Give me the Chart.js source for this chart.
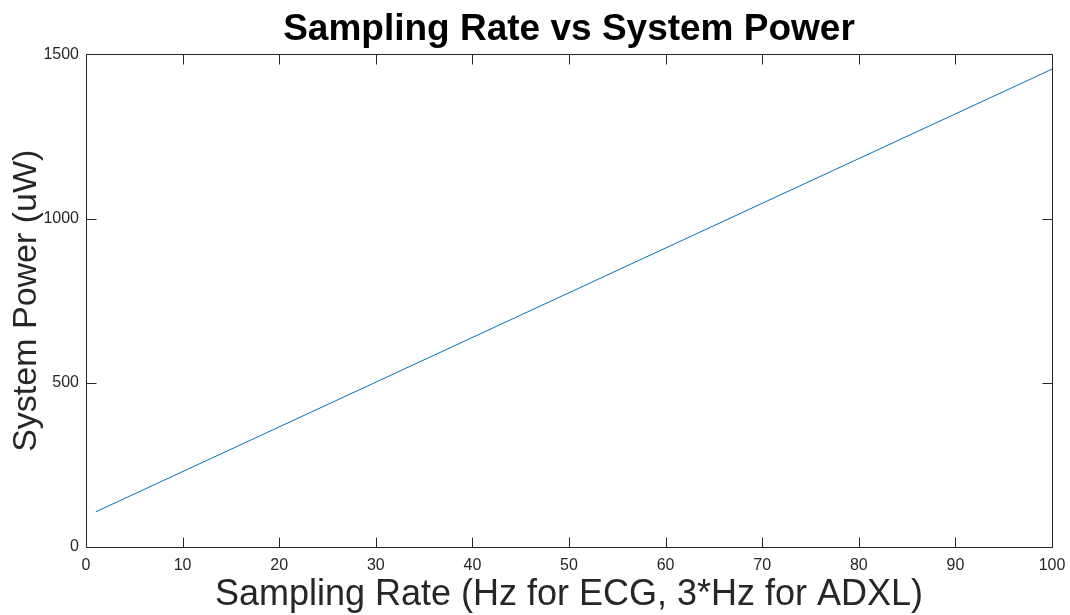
<!DOCTYPE html>
<html>
<head>
<meta charset="utf-8">
<script src="https://cdn.jsdelivr.net/npm/chart.js@4.4.1/dist/chart.umd.min.js"></script>
<style>
  html, body { margin: 0; padding: 0; background: #ffffff; }
  #wrap { width: 1070px; height: 615px; }
</style>
</head>
<body>
<div id="wrap"><canvas id="c" width="1070" height="615"></canvas></div>
<script>
// Sampling rate (Hz) and resulting system power (uW)
const samplingRate = [1, 100];
const systemPower = [107, 1455];

// Axis tick positions
const xTickValues = [0, 10, 20, 30, 40, 50, 60, 70, 80, 90, 100];
const yTickValues = [0, 500, 1000, 1500];

const titleText = 'Sampling Rate vs System Power';
const xLabel = 'Sampling Rate (Hz for ECG, 3*Hz for ADXL)';
const yLabel = 'System Power (uW)';

const axisColor = '#262626';
const lineColor = '#0072BD';
const fontFamily = '"Liberation Sans", Arial, Helvetica, sans-serif';

const points = samplingRate.map((x, i) => ({ x: x, y: systemPower[i] }));

// Box around the plot area with inward ticks on all four sides
const boxTicks = {
  id: 'boxTicks',
  afterDraw(chart) {
    const { ctx, chartArea: a } = chart;
    const xs = chart.scales.x, ys = chart.scales.y;
    const len = 10;
    ctx.save();
    ctx.strokeStyle = axisColor;
    ctx.lineWidth = 1;
    ctx.beginPath();
    const L = Math.round(a.left) + 0.5, R = Math.round(a.right) + 0.5;
    const T = Math.round(a.top) + 0.5, B = Math.round(a.bottom) + 0.5;
    ctx.rect(L, T, R - L, B - T);
    xs.ticks.forEach(t => {
      const px = Math.round(xs.getPixelForValue(t.value)) + 0.5;
      ctx.moveTo(px, B); ctx.lineTo(px, B - len);
      ctx.moveTo(px, T); ctx.lineTo(px, T + len);
    });
    ys.ticks.forEach(t => {
      const py = Math.round(ys.getPixelForValue(t.value)) + 0.5;
      ctx.moveTo(L, py); ctx.lineTo(L + len, py);
      ctx.moveTo(R, py); ctx.lineTo(R - len, py);
    });
    ctx.stroke();
    ctx.restore();
  }
};

new Chart(document.getElementById('c'), {
  type: 'line',
  data: {
    datasets: [{
      data: points,
      borderColor: lineColor,
      borderWidth: 1,
      pointRadius: 0,
      fill: false,
      tension: 0
    }]
  },
  options: {
    responsive: false,
    animation: false,
    layout: { padding: { right: 18 } },
    plugins: {
      legend: { display: false },
      tooltip: { enabled: false },
      title: {
        display: true,
        text: titleText,
        fullSize: false,
        color: '#000000',
        font: { family: fontFamily, size: 37, weight: 'bold', lineHeight: 1.2 },
        padding: { top: 8, bottom: 2 }
      }
    },
    scales: {
      x: {
        type: 'linear',
        min: 0,
        max: 100,
        afterBuildTicks(scale) { scale.ticks = xTickValues.map(v => ({ value: v })); },
        afterFit(scale) { scale.height = 68; scale.paddingLeft = 0; scale.paddingRight = 0; },
        grid: { display: false, drawTicks: false },
        border: { display: false },
        ticks: {
          color: axisColor,
          padding: 9,
          maxRotation: 0,
          font: { family: fontFamily, size: 16 },
          callback: v => String(v)
        },
        title: {
          display: true,
          text: xLabel,
          color: axisColor,
          font: { family: fontFamily, size: 36, lineHeight: 1.1 },
          padding: { top: 0, bottom: 0 }
        }
      },
      y: {
        type: 'linear',
        min: 0,
        max: 1500,
        afterBuildTicks(scale) { scale.ticks = yTickValues.map(v => ({ value: v })); },
        afterFit(scale) { scale.width = 86; scale.paddingTop = 0; scale.paddingBottom = 0; },
        grid: { display: false, drawTicks: false },
        border: { display: false },
        ticks: {
          color: axisColor,
          padding: 7,
          font: { family: fontFamily, size: 16 },
          callback: v => String(v)
        },
        title: {
          display: true,
          text: yLabel,
          color: axisColor,
          font: { family: fontFamily, size: 34, lineHeight: 1.2 },
          padding: { top: 6, bottom: 0 }
        }
      }
    }
  },
  plugins: [boxTicks]
});
</script>
</body>
</html>
